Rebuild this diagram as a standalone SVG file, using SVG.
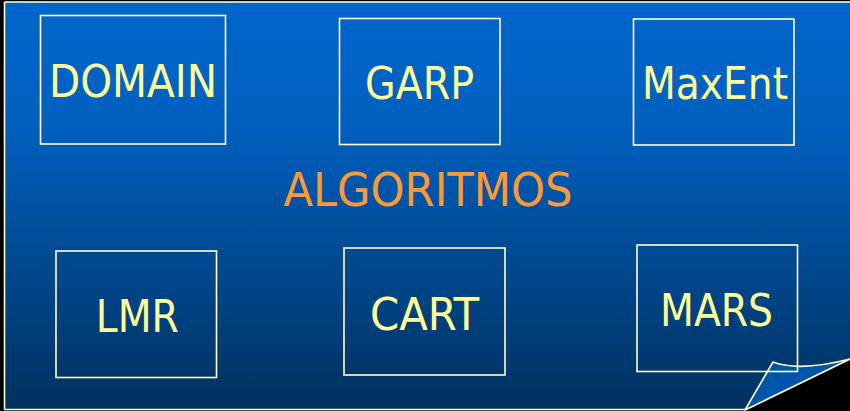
<svg xmlns="http://www.w3.org/2000/svg" width="850" height="411" viewBox="0 0 850 411">
  <defs>
    <linearGradient id="bg" x1="0" y1="0" x2="0" y2="1">
      <stop offset="0" stop-color="#0066cc"/>
      <stop offset="0.3" stop-color="#0060bf"/>
      <stop offset="1" stop-color="#00305e"/>
    </linearGradient>
    <style>
      .box { fill: none; stroke: #ffffcc; stroke-width: 1.6; }
      .lbl { font-family: "DejaVu Sans Condensed", "DejaVu Sans", Verdana, sans-serif; font-size: 45px; fill: #ffff99; text-anchor: middle; }
      .title { font-family: "DejaVu Sans Condensed", "DejaVu Sans", Verdana, sans-serif; font-size: 46px; fill: #ff9933; text-anchor: middle; }
      .frame { stroke: #ffffcc; stroke-width: 1.6; fill: none; }
    </style>
  </defs>
  <rect x="0" y="0" width="850" height="411" fill="#000000"/>
  <rect x="4" y="1.5" width="846" height="409" fill="url(#bg)"/>
  <polygon points="745,411 850,359 850,411" fill="#000000"/>
  <g id="frame">
    <line class="frame" x1="4.5" y1="2" x2="850" y2="2"/>
    <line class="frame" x1="4.5" y1="2" x2="4.5" y2="409.5"/>
    <line class="frame" x1="4.5" y1="409.5" x2="746" y2="409.5"/>
  </g>
  <g id="page-curl">
    <path d="M745,410 L773,362 Q800,372 850,359 Z" fill="#0055aa" stroke="#ffffcc" stroke-width="1.6" stroke-linejoin="round"/>
  </g>
  <g id="title">
    <text class="title" x="428" y="206" textLength="289" lengthAdjust="spacingAndGlyphs">ALGORITMOS</text>
  </g>
  <g id="domain">
    <rect class="box" x="40.5" y="15.5" width="185" height="128.5"/>
    <text class="lbl" x="133" y="97" textLength="168" lengthAdjust="spacingAndGlyphs">DOMAIN</text>
  </g>
  <g id="garp">
    <rect class="box" x="339.5" y="18.5" width="160.5" height="126"/>
    <text class="lbl" x="419.5" y="99" textLength="109" lengthAdjust="spacingAndGlyphs">GARP</text>
  </g>
  <g id="maxent">
    <rect class="box" x="633.5" y="19" width="160.5" height="126"/>
    <text class="lbl" x="715" y="99" textLength="146" lengthAdjust="spacingAndGlyphs">MaxEnt</text>
  </g>
  <g id="lmr">
    <rect class="box" x="56" y="251" width="160.5" height="126.5"/>
    <text class="lbl" x="137.3" y="331.5" textLength="83" lengthAdjust="spacingAndGlyphs">LMR</text>
  </g>
  <g id="cart">
    <rect class="box" x="344" y="248" width="161" height="127"/>
    <text class="lbl" x="424.5" y="329.7" textLength="109" lengthAdjust="spacingAndGlyphs">CART</text>
  </g>
  <g id="mars">
    <rect class="box" x="637" y="245" width="160.5" height="126.5"/>
    <text class="lbl" x="716.5" y="325.7" textLength="113" lengthAdjust="spacingAndGlyphs">MARS</text>
  </g>
  <g id="connectors"/>
</svg>
